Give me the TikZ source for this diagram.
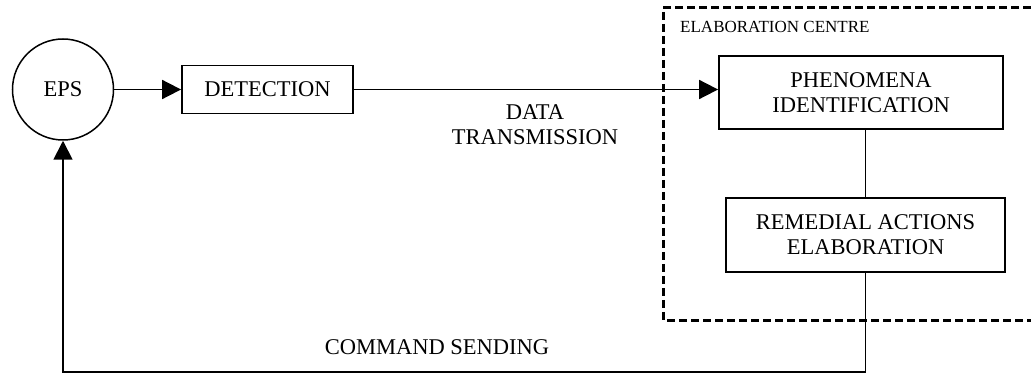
\documentclass[tikz,border=0pt]{standalone}
\usepackage{fontspec}
\setmainfont{Liberation Serif}
\usetikzlibrary{arrows.meta}
\begin{document}
\begin{tikzpicture}[x=1pt,y=-1pt,
  font=\fontsize{22.5}{25}\selectfont,
  box/.style={draw, line width=1.8pt, inner sep=0pt, align=center},
  conn/.style={line width=1.8pt},
  arr/.style={conn, -{Triangle[length=19pt,width=19pt]}},
  zone/.style={line width=3pt, dash pattern=on 8pt off 4pt}]
\useasboundingbox (0,0) rectangle (1031,374);

% feedback loop components
\node[draw, circle, line width=1.5pt, minimum size=101pt, inner sep=0pt] (eps) at (63,89.5) {EPS};
\node[box, minimum width=171pt, minimum height=48pt] (det) at (267.5,89.5) {DETECTION};
\node[box, minimum width=284pt, minimum height=73pt] (phen) at (861,92.5) {PHENOMENA\\IDENTIFICATION};
\node[box, minimum width=279pt, minimum height=74pt] (rem) at (865.5,235) {REMEDIAL ACTIONS\\ELABORATION};

% elaboration centre boundary (open on the right)
\draw[zone] (1031,8) -- (663,8) -- (663,320) -- (1031,320);
\node[anchor=west, inner sep=0pt, font=\fontsize{17}{20}\selectfont] (ec) at (680,27) {ELABORATION CENTRE};

% labels
\node[align=center, inner sep=0pt] (dt) at (535,125) {DATA\\TRANSMISSION};
\node[inner sep=0pt] (cs) at (437,347) {COMMAND SENDING};

% connectors
\draw[arr] (eps.east) -- (det.west);
\draw[arr] (det.east) -- (det.east -| phen.west);
\draw[conn] (phen.south -| rem.north) -- (rem.north);
\draw[arr] (rem.south) -- (rem.south |- 0,372) -- (eps.south |- 0,372) -- (eps.south);
\end{tikzpicture}
\end{document}
